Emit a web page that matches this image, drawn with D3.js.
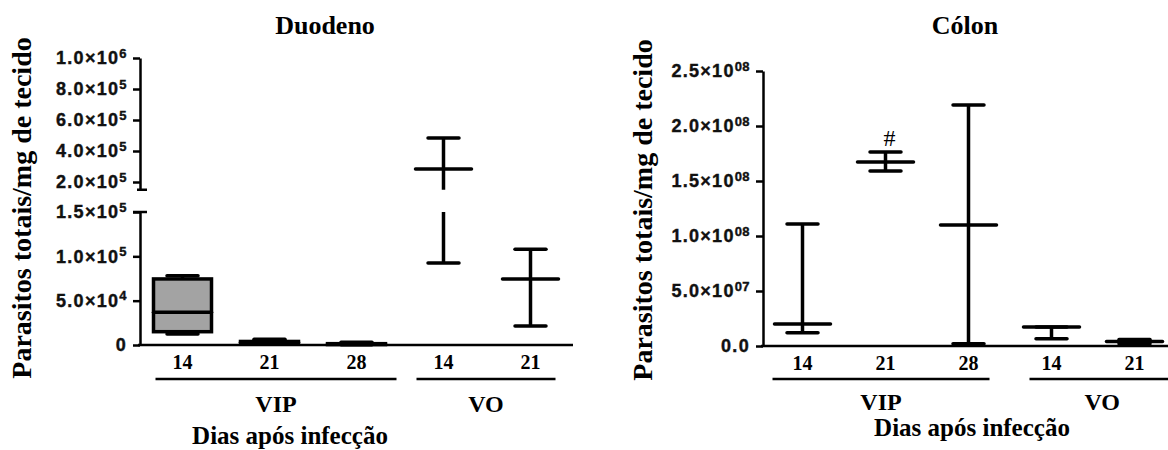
<!DOCTYPE html>
<html>
<head>
<meta charset="utf-8">
<style>
  body { margin: 0; background: #fff; }
  svg { display: block; }
</style>
</head>
<body>
<svg width="1168" height="450"></svg>
<script src="https://d3js.org/d3.v7.min.js"></script>
<script>

// categories (days after infection) and groups
var categories = ["14", "21", "28", "14", "21"];
var groupLabels = ["VIP", "VO"];
var groupFirst = [0, 3];
var groupLast = [2, 4];

// Duodeno: box plots for VIP, median + range for VO
var duoMin = [1.25e4, 1.0e3, 3.0e2, 9.25e4, 2.15e4];
var duoQ1  = [1.5e4, 1.5e3, 5.0e2, null, null];
var duoMed = [3.7e4, 3.0e3, 1.0e3, 2.84e5, 7.45e4];
var duoQ3  = [7.45e4, 4.0e3, 1.5e3, null, null];
var duoMax = [7.8e4, 6.5e3, 3.0e3, 4.84e5, 1.08e5];

// Cólon: median + range
var colMin = [1.2e7, 1.59e8, 2.0e6, 6.5e6, 2.0e6];
var colMed = [2.0e7, 1.673e8, 1.1e8, 1.72e7, 4.0e6];
var colMax = [1.109e8, 1.764e8, 2.19e8, 1.73e7, 6.0e6];
var colNote = ["", "#", "", "", ""];

// y tick values and labels [mantissa, exponent]
var duoLowTicks = [0, 5e4, 1e5, 1.5e5];
var duoLowLabels = [["0", ""], ["5.0×10", "4"], ["1.0×10", "5"], ["1.5×10", "5"]];
var duoHighTicks = [2e5, 4e5, 6e5, 8e5, 1e6];
var duoHighLabels = [["2.0×10", "5"], ["4.0×10", "5"], ["6.0×10", "5"], ["8.0×10", "5"], ["1.0×10", "6"]];
var colTicks = [0, 5e7, 1e8, 1.5e8, 2e8, 2.5e8];
var colLabels = [["0.0", ""], ["5.0×10", "07"], ["1.0×10", "08"], ["1.5×10", "08"], ["2.0×10", "08"], ["2.5×10", "08"]];

var yTitle = "Parasitos totais/mg de tecido";
var xTitle = "Dias após infecção";

var SERIF = "'Liberation Serif', 'Times New Roman', serif";
var SANS = "'Liberation Sans', Arial, sans-serif";

var svg = d3.select("svg");

var panels = [
  {
    title: "Duodeno", titleX: 325,
    axisX: 140, baseY: 345, xRange: [139, 574], xEnd: 573,
    yTitleX: 31, yTitleY: 208,
    xTitleX: 290, xTitleY: 444,
    groupY: 379, groupLabelY: 412, groupPad: [[27, 40], [27, 25]],
    min: duoMin, q1: duoQ1, med: duoMed, q3: duoQ3, max: duoMax, note: null,
    segments: [
      { domain: [0, 1.5e5], range: [345, 212], ticks: duoLowTicks, labels: duoLowLabels, brkTop: true },
      { domain: [1.5e5, 1e6], range: [189.75, 58], ticks: duoHighTicks, labels: duoHighLabels, brkBottom: true }
    ]
  },
  {
    title: "Cólon", titleX: 965,
    axisX: 763, baseY: 346, xRange: [761, 1176], xEnd: 1168,
    yTitleX: 652, yTitleY: 210,
    xTitleX: 972, xTitleY: 436,
    groupY: 379, groupLabelY: 410, groupPad: [[30, 21], [22, 50]],
    min: colMin, q1: null, med: colMed, q3: null, max: colMax, note: colNote,
    segments: [
      { domain: [0, 2.5e8], range: [346, 71], ticks: colTicks, labels: colLabels }
    ]
  }
];

panels.forEach(drawPanel);

function serifText(sel, size) {
  return sel.attr("font-family", SERIF)
    .style("font-family", SERIF)
    .style("font-weight", "bold")
    .attr("font-size", size)
    .attr("fill", "#000");
}

function drawPanel(p) {
  var g = svg.append("g");

  var x = d3.scaleBand()
    .domain(d3.range(categories.length))
    .range(p.xRange);
  var bw = x.bandwidth();

  var segs = p.segments.map(function(s) {
    return Object.assign({}, s, { y: d3.scaleLinear().domain(s.domain).range(s.range) });
  });

  function yOf(v) {
    for (var k = 0; k < segs.length; k++) {
      var s = segs[k];
      if (v >= s.domain[0] && v <= s.domain[1]) return s.y(v);
    }
    return segs[segs.length - 1].y(v);
  }

  // y axes (one per segment of the broken axis)
  segs.forEach(function(s) {
    var ax = g.append("g")
      .attr("transform", "translate(" + p.axisX + ",0)")
      .call(d3.axisLeft(s.y).tickValues(s.ticks).tickSize(7).tickSizeOuter(0).tickPadding(6).tickFormat(function() { return ""; }));
    ax.select(".domain").attr("stroke-width", 2.5);
    ax.selectAll(".tick line").attr("stroke-width", 2.5);
    ax.selectAll(".tick text")
      .attr("fill", "#111")
      .style("font-family", SANS)
      .style("font-weight", "bold")
      .style("font-size", "18px")
      .style("letter-spacing", "1.3px")
      .style("stroke", "#111")
      .style("stroke-width", "0.4px")
      .each(function(d, i) {
        var t = d3.select(this);
        t.append("tspan").text(s.labels[i][0]);
        if (s.labels[i][1]) {
          t.append("tspan").style("font-size", "13px").attr("dy", "-0.5em").style("letter-spacing", "0.4px").text(s.labels[i][1]);
        }
      });
    if (s.brkTop) {
      g.append("line").attr("x1", p.axisX - 7).attr("x2", p.axisX + 7)
        .attr("y1", s.range[1]).attr("y2", s.range[1])
        .attr("stroke", "#000").attr("stroke-width", 2.5);
    }
    if (s.brkBottom) {
      g.append("line").attr("x1", p.axisX - 3).attr("x2", p.axisX + 7)
        .attr("y1", s.range[0]).attr("y2", s.range[0])
        .attr("stroke", "#000").attr("stroke-width", 2.5);
    }
  });

  // x axis
  var xa = g.append("g")
    .attr("transform", "translate(0," + p.baseY + ")")
    .call(d3.axisBottom(x).tickSize(0).tickPadding(10).tickFormat(function(i) { return categories[i]; }));
  xa.select(".domain").remove();
  serifText(xa.selectAll(".tick text"), 20);
  g.append("line")
    .attr("x1", p.axisX - 2).attr("x2", p.xEnd)
    .attr("y1", p.baseY).attr("y2", p.baseY)
    .attr("stroke", "#000").attr("stroke-width", 2.5);

  // group lines + labels
  groupLabels.forEach(function(lab, k) {
    var x1 = x(groupFirst[k]) + bw / 2 - p.groupPad[k][0];
    var x2 = x(groupLast[k]) + bw / 2 + p.groupPad[k][1];
    g.append("line")
      .attr("x1", x1).attr("x2", x2)
      .attr("y1", p.groupY).attr("y2", p.groupY)
      .attr("stroke", "#000").attr("stroke-width", 2.5);
    serifText(g.append("text"), 24)
      .attr("x", (x1 + Math.min(x2, 1175)) / 2)
      .attr("y", p.groupLabelY)
      .attr("text-anchor", "middle")
      .text(lab);
  });

  // marks
  var capW = 31, boxW = 58, medW = 56, sw = 3.5;
  categories.forEach(function(c, i) {
    var cx = x(i) + bw / 2;
    var lo = p.min[i], hi = p.max[i];

    // whisker, split over axis segments
    segs.forEach(function(s) {
      var a = Math.max(lo, s.domain[0]), b = Math.min(hi, s.domain[1]);
      if (b > a) {
        g.append("line")
          .attr("x1", cx).attr("x2", cx)
          .attr("y1", s.y(a)).attr("y2", s.y(b))
          .attr("stroke", "#000").attr("stroke-width", sw);
      }
    });

    [lo, hi].forEach(function(v) {
      g.append("line")
        .attr("x1", cx - capW / 2).attr("x2", cx + capW / 2)
        .attr("y1", yOf(v)).attr("y2", yOf(v))
        .attr("stroke", "#000").attr("stroke-width", sw)
        .attr("stroke-linecap", "round");
    });

    var isBox = p.q1 && p.q1[i] != null;
    if (isBox) {
      var yTop = yOf(p.q3[i]), yBot = yOf(p.q1[i]);
      g.append("rect")
        .attr("x", cx - boxW / 2).attr("y", yTop)
        .attr("width", boxW).attr("height", Math.max(0.5, yBot - yTop))
        .attr("fill", "#a3a3a3")
        .attr("stroke", "#000").attr("stroke-width", sw);
    }

    var w = isBox ? boxW : medW;
    g.append("line")
      .attr("x1", cx - w / 2).attr("x2", cx + w / 2)
      .attr("y1", yOf(p.med[i])).attr("y2", yOf(p.med[i]))
      .attr("stroke", "#000").attr("stroke-width", sw)
      .attr("stroke-linecap", "round");

    if (p.note && p.note[i]) {
      g.append("text")
        .attr("x", cx + 4)
        .attr("y", yOf(hi) - 6)
        .attr("text-anchor", "middle")
        .style("font-family", SERIF)
        .style("font-size", "24px")
        .text(p.note[i]);
    }
  });

  // titles
  serifText(g.append("text"), 26)
    .attr("x", p.titleX).attr("y", 34)
    .attr("text-anchor", "middle")
    .text(p.title);

  serifText(g.append("text"), 28)
    .attr("transform", "translate(" + p.yTitleX + "," + p.yTitleY + ") rotate(-90)")
    .attr("text-anchor", "middle")
    .text(yTitle);

  serifText(g.append("text"), 25)
    .attr("x", p.xTitleX).attr("y", p.xTitleY)
    .attr("text-anchor", "middle")
    .text(xTitle);
}

</script>
</body>
</html>
